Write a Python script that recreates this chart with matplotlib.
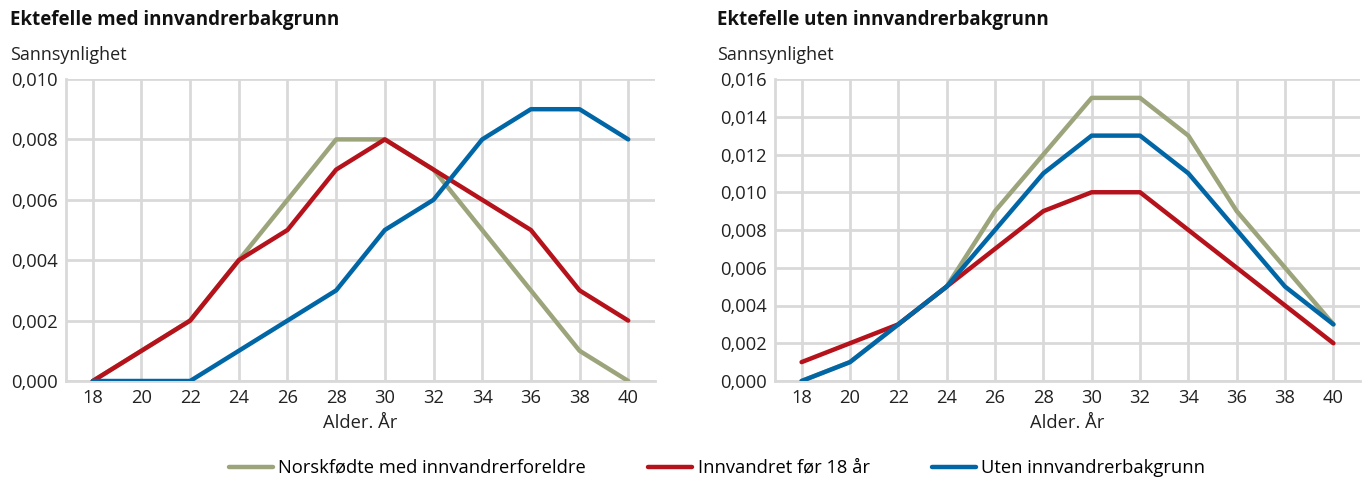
import matplotlib.pyplot as plt
import numpy as np

plt.rcParams['font.family'] = ['Open Sans', 'DejaVu Sans']

alder = [18, 20, 22, 24, 26, 28, 30, 32, 34, 36, 38, 40]
serier = ["Norskfødte med innvandrerforeldre", "Innvandret før 18 år", "Uten innvandrerbakgrunn"]
farger = ["#9ca47b", "#b5121b", "#0066a6"]

# Ektefelle med innvandrerbakgrunn
med_norskfodte = [0.000, 0.001, 0.002, 0.004, 0.006, 0.008, 0.008, 0.007, 0.005, 0.003, 0.001, 0.000]
med_innvandret = [0.000, 0.001, 0.002, 0.004, 0.005, 0.007, 0.008, 0.007, 0.006, 0.005, 0.003, 0.002]
med_uten = [0.000, 0.000, 0.000, 0.001, 0.002, 0.003, 0.005, 0.006, 0.008, 0.009, 0.009, 0.008]

# Ektefelle uten innvandrerbakgrunn
uten_norskfodte = [0.000, 0.001, 0.003, 0.005, 0.009, 0.012, 0.015, 0.015, 0.013, 0.009, 0.006, 0.003]
uten_innvandret = [0.001, 0.002, 0.003, 0.005, 0.007, 0.009, 0.010, 0.010, 0.008, 0.006, 0.004, 0.002]
uten_uten = [0.000, 0.001, 0.003, 0.005, 0.008, 0.011, 0.013, 0.013, 0.011, 0.008, 0.005, 0.003]

paneler = [
    ("Ektefelle med innvandrerbakgrunn", [med_norskfodte, med_innvandret, med_uten], 0.010, 0.002),
    ("Ektefelle uten innvandrerbakgrunn", [uten_norskfodte, uten_innvandret, uten_uten], 0.016, 0.002),
]

fig = plt.figure(figsize=(13.64, 4.8), dpi=100)
axpos = [[66 / 1364, 1 - 381 / 480, 589 / 1364, 302 / 480],
         [775 / 1364, 1 - 381 / 480, 585 / 1364, 302 / 480]]
tekst_x = [10 / 1364, 717 / 1364]
grid_c = "#d9d9d9"

for i, (tittel, data, ymax, steg) in enumerate(paneler):
    ax = fig.add_axes(axpos[i])
    for y, c, lab in zip(data, farger, serier):
        ax.plot(alder, y, color=c, lw=3.2, label=lab, solid_capstyle='round', zorder=3)
    ax.set_xlim(16.9, 41.1)
    ax.set_ylim(0, ymax)
    ax.set_xticks(alder)
    yt = np.arange(0, ymax + steg / 2, steg)
    ax.set_yticks(yt)
    ax.set_yticklabels([f"{v:.3f}".replace(".", ",") for v in yt])
    ax.grid(True, color=grid_c, lw=2.0, zorder=0)
    for s in ["top", "right"]:
        ax.spines[s].set_visible(False)
    ax.spines["left"].set_color(grid_c)
    ax.spines["bottom"].set_color(grid_c)
    ax.spines["left"].set_linewidth(2.0)
    ax.spines["bottom"].set_linewidth(2.0)
    ax.tick_params(length=0, labelsize=13.2, colors="#222222", pad=6)
    ax.set_xlabel("Alder. År", fontsize=13.2, color="#222222", labelpad=5)
    fig.text(tekst_x[i], 1 - 20 / 480, tittel, fontsize=13.5, fontweight='bold', va='center', color="#111111")
    fig.text(tekst_x[i], 1 - 55 / 480, "Sannsynlighet", fontsize=13, va='center', color="#222222")

h, l = ax.get_legend_handles_labels()
fig.legend(h, l, loc='center left', bbox_to_anchor=(212 / 1364, 1 - 468 / 480), ncol=3, frameon=False,
           fontsize=13.2, handlelength=2.4, handletextpad=0.3, columnspacing=3.4)

fig.savefig("out.png", dpi=100)
